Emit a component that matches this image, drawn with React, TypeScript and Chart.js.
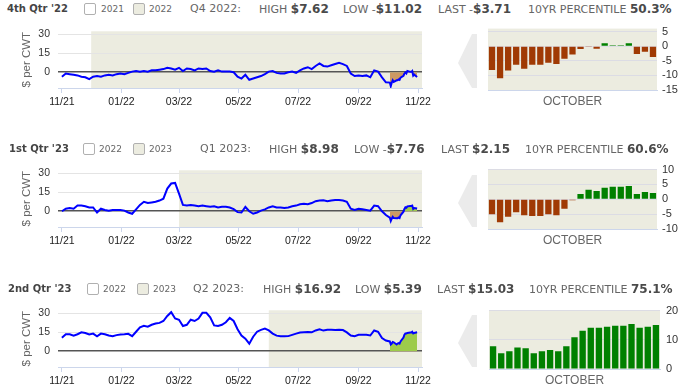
import React, { useEffect, useRef } from 'react';
import { Chart, registerables } from 'chart.js';

Chart.register(...registerables);
Chart.defaults.font.family = '"Liberation Sans", Arial, sans-serif';

// ---------- DATA ----------
const xTickDays = [0, 61, 120, 181, 242, 304, 365];
const xTickLabels = ['11/21', '01/22', '03/22', '05/22', '07/22', '09/22', '11/22'];
const lineYTicks = [0, 15, 30];

// days since 2021-11-01 (history, ~every 4 days)
const histDays = [0, 4, 8, 12, 16, 20, 24, 28, 32, 36, 40, 44, 48, 52, 56, 60, 64, 68, 72, 76, 80, 84, 88, 92, 96, 100, 104, 108, 112, 116, 120, 124, 128, 132, 136, 140, 144, 148, 152, 156, 160, 164, 168, 172, 176, 180, 184, 188, 192, 196, 200, 204, 208, 212, 216, 220, 224, 228, 232, 236, 240, 244, 248, 252, 256, 260, 264, 268, 272, 276, 280, 284, 288, 292, 296, 300, 304, 308, 312, 316, 320, 324, 328, 332];
// October 2022 trading days (days since 2021-11-01)
const octDays = [336, 337, 338, 339, 340, 343, 344, 345, 346, 347, 350, 351, 352, 353, 354, 357, 358, 359, 360, 361, 364];
const octLabels = ['10/03', '10/04', '10/05', '10/06', '10/07', '10/10', '10/11', '10/12', '10/13', '10/14', '10/17', '10/18', '10/19', '10/20', '10/21', '10/24', '10/25', '10/26', '10/27', '10/28', '10/31'];

const q4Hist = [-3.5, -1, -1.5, -2, -2.5, -3.5, -4, -5.5, -3.5, -3, -3.5, -2.5, -2, -2.5, -1.5, -1, -1.5, -0.5, 0.5, 1, 0.5, 1, 0.5, 1.5, 1.5, 2, 2.5, 3.5, 3, 2, 3.5, 1, 3, 2.5, 1.5, 3, 2.5, 3, 1, 0.5, 1.5, 0.5, 0.5, 0.5, 0, -3.5, -5, -2, -6, -5, -4, -3, -1.5, 0.5, 1, -0.5, -1, -1, 0, 0.5, -0.5, 1.5, 3, 4, 2.5, 5, 7, 5, 4.5, 5.5, 6.5, 7.5, 6.5, 5, -1, -3, -2.5, -3, -2.5, -4, 1.5, 0.5, -4, -8];
const q4Oct = [-8.2, -11.02, -8.3, -6.4, -7.7, -6.4, -6.4, -5.7, -6.1, -4.3, -2.9, -1.0, -0.1, -0.9, 1.0, 0.3, 0.3, 1.0, -2.7, -1.9, -3.71];

const q1Hist = [0, 2, 2.5, 2, 4.5, 4.5, 4, 3, 3, -1, 2, 1, 0.5, 1, 1, 1, 0.5, -1, -2, 1.5, 5, 7.5, 6.5, 7, 7.5, 8.5, 10, 18, 22, 22.5, 14, 5, 4.5, 5, 4.5, 4, 4.5, 4, 3.5, 4, 3, 3.5, 3.5, 3, 1.7, -0.7, -1, 3.4, 0, -2, -1, 0.5, 1.5, 3, 4, 3, 3, 2.5, 3, 4, 4.5, 5.5, 6, 5.5, 6.5, 8, 8.5, 8.8, 8, 8.5, 9, 9, 8.5, 7.5, 2, 1, 2, 1.5, 1, 0.5, 4.5, 4, 0, -3];
const q1Oct = [-5.0, -7.76, -5.9, -4.4, -5.4, -5.6, -5.6, -5.0, -5.4, -3.2, -0.3, 1.8, 3.2, 2.8, 3.9, 4.2, 4.2, 4.5, 1.8, 2.5, 2.15];

const q2Hist = [10.7, 13.5, 13.5, 12.4, 13.5, 15, 14.5, 13.3, 14, 11.9, 14, 13.5, 12.5, 11.9, 12.8, 13.3, 13.5, 13.8, 12, 15.5, 19, 20.2, 19.5, 21, 22, 22.5, 24, 28, 31, 26, 25, 20, 21, 25, 24, 26, 30.5, 30.5, 27, 20.5, 20, 21, 23, 26.5, 24, 17.5, 12.5, 10, 6, 11.5, 15.5, 17, 18, 16.5, 14, 12.4, 12, 11.9, 12, 13, 14, 14.8, 15, 15.2, 15, 16.5, 17.5, 16.4, 17, 17, 16.8, 17, 16.8, 15, 12.5, 12, 13, 13, 13, 12.5, 16.5, 15.5, 10.5, 8.5];
const q2Oct = [7.8, 5.39, 6.1, 7.4, 7.1, 5.4, 6.1, 6.5, 6.1, 7.8, 10.9, 13.1, 14.1, 14.1, 14.5, 14.8, 14.8, 15.4, 14.1, 14.5, 15.03];

const bandStartDays = [30, 120, 212];

const contractLabels = ["4th Qtr '22", "1st Qtr '23", "2nd Qtr '23"];
const legendYearA = ['2021', '2022', '2022'];
const legendYearB = ['2022', '2023', '2023'];
const periodLabels = ['Q4 2022:', 'Q1 2023:', 'Q2 2023:'];
const highValues = [7.62, 8.98, 16.92];
const lowValues = [-11.02, -7.76, 5.39];
const lastValues = [-3.71, 2.15, 15.03];
const percentiles = [50.3, 60.6, 75.1];

const barTicks1 = [-15, -10, -5, 0, 5];
const barTicks2 = [-10, -5, 0, 5, 10];
const barTicks3 = [0, 10, 20];

// ---------- STYLE / LAYOUT ----------
const BEIGE = '#ecece0';
const BROWN = '#a03a04';
const GREEN = '#008000';
const HEADER_FONT = '"DejaVu Sans", Verdana, sans-serif';

const headerPos = [
  { y: 9, label: 7, box1: 84, yr1: 101, box2: 133, yr2: 149, period: 190, high: 259, low: 343, last: 438, pct: 528 },
  { y: 149, label: 9, box1: 83, yr1: 99, box2: 133, yr2: 149, period: 200, high: 269, low: 354, last: 441, pct: 525 },
  { y: 288.5, label: 8, box1: 87, yr1: 103, box2: 137, yr2: 153, period: 193, high: 263, low: 355, last: 437, pct: 529 },
];
const linePlotTop = [27, 166, 306];
const barGeom = [
  { left: 488, width: 208, axisW: 39, pad: 5, top: 25, plotH: 65, min: -15, max: 6, ticks: barTicks1 },
  { left: 488, width: 208, axisW: 39, pad: 5, top: 166, plotH: 63, min: -10, max: 10, ticks: barTicks2 },
  { left: 489, width: 207, axisW: 36, pad: 6, top: 306, plotH: 63, min: 0, max: 20, ticks: barTicks3 },
];

const bandPlugin = {
  id: 'band',
  beforeDraw(chart: any, _args: any, opts: any) {
    const { ctx, chartArea, scales } = chart;
    if (!chartArea) return;
    const left = opts && opts.from != null ? scales.x.getPixelForValue(opts.from) : chartArea.left;
    ctx.save();
    ctx.fillStyle = BEIGE;
    ctx.fillRect(left, chartArea.top, chartArea.right - left, chartArea.bottom - chartArea.top);
    ctx.restore();
  },
};

const fmtSign = (v: number) => (v < 0 ? '-' : '');
const fmtAbs = (v: number) => '$' + Math.abs(v).toFixed(2);

function LineChart({ row }: { row: number }) {
  const ref = useRef<HTMLCanvasElement>(null);
  const hist = [q4Hist, q1Hist, q2Hist][row];
  const oct = [q4Oct, q1Oct, q2Oct][row];
  useEffect(() => {
    const main = [
      ...histDays.map((d, i) => ({ x: d, y: hist[i] })),
      ...octDays.map((d, i) => ({ x: d, y: oct[i] })),
    ];
    const fillPts = octDays.map((d, i) => ({ x: d, y: oct[i] }));
    const chart = new Chart(ref.current as HTMLCanvasElement, {
      type: 'line',
      data: {
        datasets: [
          { data: main, borderColor: '#0000ff', borderWidth: 2, pointRadius: 0, fill: false, tension: 0 },
          {
            data: fillPts,
            borderWidth: 0,
            borderColor: 'rgba(0,0,0,0)',
            pointRadius: 0,
            tension: 0,
            fill: { target: { value: 0 }, above: '#9dcb4b', below: '#cc9963' },
          },
        ],
      },
      options: {
        animation: false,
        responsive: false,
        events: [],
        layout: { padding: { top: 10, right: 14, left: 0, bottom: 0 } },
        plugins: {
          legend: { display: false },
          tooltip: { enabled: false },
          band: { from: bandStartDays[row] },
        } as any,
        scales: {
          x: {
            type: 'linear',
            min: -4,
            max: 369,
            afterBuildTicks: (s: any) => {
              s.ticks = xTickDays.map((v) => ({ value: v }));
            },
            afterFit: (s: any) => {
              s.height = 24;
            },
            ticks: {
              autoSkip: false,
              maxRotation: 0,
              padding: 3,
              color: '#222',
              font: { size: 10.5 },
              callback: (_v: any, i: number) => xTickLabels[i],
            },
            grid: { drawOnChartArea: false, drawTicks: true, tickLength: 5, color: '#ccd6eb' },
            border: { display: true, color: '#ccd6eb' },
          },
          y: {
            min: -12.5,
            max: 32.5,
            afterBuildTicks: (s: any) => {
              s.ticks = lineYTicks.map((v) => ({ value: v }));
            },
            afterFit: (s: any) => {
              s.width = 58;
            },
            ticks: { autoSkip: false, padding: 8, color: '#333', font: { size: 10.5 } },
            grid: {
              drawTicks: false,
              color: (c: any) => (c.tick && c.tick.value === 0 ? '#555' : '#e4e4e4'),
              lineWidth: (c: any) => (c.tick && c.tick.value === 0 ? 1.6 : 1),
            },
            border: { display: false },
            title: {
              display: true,
              text: '$ per CWT',
              color: '#666',
              font: { size: 11.5 },
              padding: { top: 20, bottom: 0 },
            },
          },
        },
      } as any,
      plugins: [bandPlugin],
    });
    return () => chart.destroy();
  }, []);
  const top = linePlotTop[row] - 10;
  return (
    <canvas
      ref={ref}
      width={436}
      height={95}
      style={{ position: 'absolute', left: 0, top, width: 436, height: 95 }}
    />
  );
}

function BarChart({ row }: { row: number }) {
  const ref = useRef<HTMLCanvasElement>(null);
  const g = barGeom[row];
  const vals = [q4Oct, q1Oct, q2Oct][row];
  useEffect(() => {
    const chart = new Chart(ref.current as HTMLCanvasElement, {
      type: 'bar',
      data: {
        labels: octLabels,
        datasets: [
          {
            data: vals,
            backgroundColor: vals.map((v) => (v >= 0 ? GREEN : BROWN)),
            borderWidth: 0,
            barPercentage: 0.78,
            categoryPercentage: 1,
          },
        ],
      },
      options: {
        animation: false,
        responsive: false,
        events: [],
        layout: { padding: { top: 8, right: 0, left: 0, bottom: 0 } },
        plugins: { legend: { display: false }, tooltip: { enabled: false }, band: {} } as any,
        scales: {
          x: {
            type: 'category',
            offset: true,
            afterFit: (s: any) => {
              s.height = 24;
            },
            ticks: { display: false },
            grid: { display: false },
            border: { display: true, color: '#ccd6eb' },
            title: {
              display: true,
              text: 'OCTOBER',
              color: '#666',
              font: { size: 12 },
              padding: { top: 0, bottom: 5 },
            },
          },
          y: {
            position: 'right',
            min: g.min,
            max: g.max,
            afterBuildTicks: (s: any) => {
              s.ticks = g.ticks.map((v) => ({ value: v }));
            },
            afterFit: (s: any) => {
              s.width = g.axisW;
            },
            ticks: { autoSkip: false, padding: g.pad, color: '#333', font: { size: 11 } },
            grid: { drawTicks: false, color: '#dcdce4' },
            border: { display: false },
          },
        },
      } as any,
      plugins: [bandPlugin],
    });
    return () => chart.destroy();
  }, []);
  const h = 8 + g.plotH + 24;
  return (
    <canvas
      ref={ref}
      width={g.width}
      height={h}
      style={{ position: 'absolute', left: g.left, top: g.top - 8, width: g.width, height: h }}
    />
  );
}

function Arrow({ row }: { row: number }) {
  const g = barGeom[row];
  const t = g.top + 9;
  const b = g.top + g.plotH - 2;
  const mid = (t + b) / 2 + 2;
  const pts = `472,${t} 477,${t} 477,${b} 472,${b} 458,${mid}`;
  return (
    <svg style={{ position: 'absolute', left: 0, top: 0 }} width={696} height={385}>
      <polygon points={pts} fill="#ebebeb" />
    </svg>
  );
}

function Header({ row }: { row: number }) {
  const p = headerPos[row];
  const textStyle = (left: number, size: number, extra: any = {}) => ({
    position: 'absolute' as const,
    left,
    top: p.y - 8,
    lineHeight: '16px',
    height: 16,
    whiteSpace: 'nowrap' as const,
    fontFamily: HEADER_FONT,
    fontSize: size,
    color: '#666',
    ...extra,
  });
  const boxStyle = (left: number, bg: string) => ({
    position: 'absolute' as const,
    left,
    top: p.y - 6,
    width: 12,
    height: 12,
    boxSizing: 'border-box' as const,
    border: '1px solid #b0b0b0',
    borderRadius: 2,
    background: bg,
  });
  const bold = { fontWeight: 'bold', fontSize: 12, color: '#4a4a4a' };
  return (
    <>
      <div style={textStyle(p.label, 10, { fontWeight: 'bold', color: '#444' })}>{contractLabels[row]}</div>
      <div style={boxStyle(p.box1, '#fff')} />
      <div style={textStyle(p.yr1, 9)}>{legendYearA[row]}</div>
      <div style={boxStyle(p.box2, BEIGE)} />
      <div style={textStyle(p.yr2, 9)}>{legendYearB[row]}</div>
      <div style={textStyle(p.period, 11)}>{periodLabels[row]}</div>
      <div style={textStyle(p.high, 11)}>
        HIGH {fmtSign(highValues[row])}
        <span style={bold}>{fmtAbs(highValues[row])}</span>
      </div>
      <div style={textStyle(p.low, 11)}>
        LOW {fmtSign(lowValues[row])}
        <span style={bold}>{fmtAbs(lowValues[row])}</span>
      </div>
      <div style={textStyle(p.last, 11)}>
        LAST {fmtSign(lastValues[row])}
        <span style={bold}>{fmtAbs(lastValues[row])}</span>
      </div>
      <div style={textStyle(p.pct, 11)}>
        10YR PERCENTILE <span style={bold}>{percentiles[row].toFixed(1)}%</span>
      </div>
    </>
  );
}

export default function App() {
  const rows = [0, 1, 2];
  return (
    <div
      style={{
        position: 'absolute',
        left: 0,
        top: 0,
        width: 696,
        height: 385,
        overflow: 'hidden',
        background: '#fff',
      }}
    >
      {rows.map((r) => (
        <React.Fragment key={r}>
          <Arrow row={r} />
          <Header row={r} />
          <LineChart row={r} />
          <BarChart row={r} />
        </React.Fragment>
      ))}
    </div>
  );
}
